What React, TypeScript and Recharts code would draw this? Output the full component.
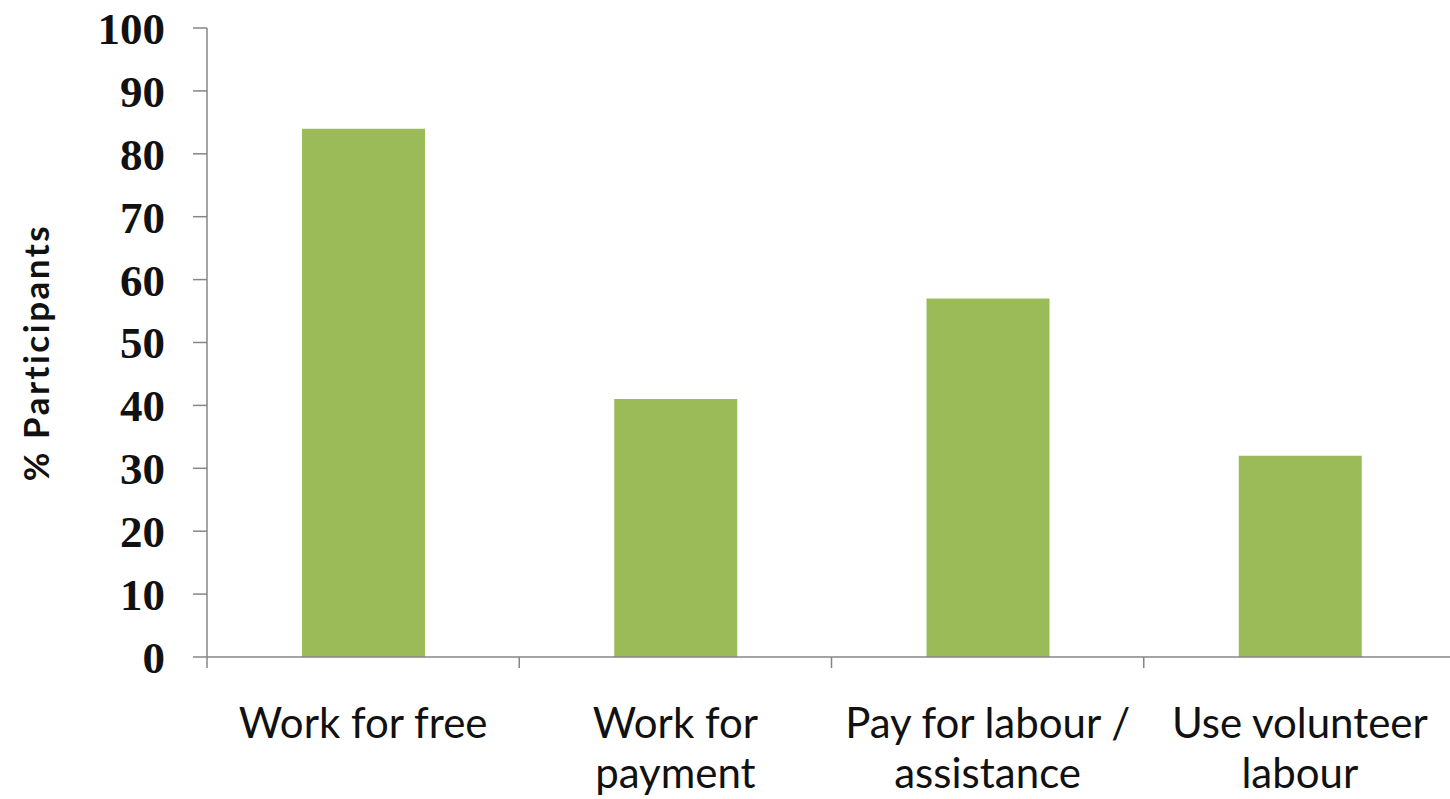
import { BarChart, Bar, XAxis, YAxis, Label } from "recharts";

const categories = ["Work for free", "Work for payment", "Pay for labour / assistance", "Use volunteer labour"];
const categoryLines = [["Work for free"], ["Work for", "payment"], ["Pay for labour /", "assistance"], ["Use volunteer", "labour"]];
const participants = [84, 41, 57, 32];
const yTicks = [0, 10, 20, 30, 40, 50, 60, 70, 80, 90, 100];

const data = categories.map((name, i) => ({ name, value: participants[i] }));

const W = 1456;
const H = 799;
const AXIS_X = 207;
const BAND = (W - AXIS_X) / categories.length;
const AXIS_COLOR = "#868686";

function CategoryTick(props: any) {
  const { x, y, index } = props;
  const lines = categoryLines[index] || [];
  const left = x - BAND / 2;
  return (
    <g>
      <line x1={left} y1={y - 8} x2={left} y2={y + 3} stroke={AXIS_COLOR} strokeWidth={1.5} />
      {index === categories.length - 1 && (
        <line x1={x + BAND / 2} y1={y - 8} x2={x + BAND / 2} y2={y + 3} stroke={AXIS_COLOR} strokeWidth={1.5} />
      )}
      {lines.map((t, i) => (
        <text
          key={i}
          x={x}
          y={y + 73 + i * 50}
          textAnchor="middle"
          fill="#111"
          fontFamily="Lato, sans-serif"
          fontSize={42}
        >
          {t}
        </text>
      ))}
    </g>
  );
}

export default function App() {
  return (
    <div style={{ position: "absolute", left: 0, top: 0, width: 1450, height: H, overflow: "hidden", background: "#fff" }}>
      <BarChart width={W} height={H} data={data} margin={{ top: 28, right: 0, bottom: 12, left: 0 }} barCategoryGap={0}>
        <XAxis
          dataKey="name"
          interval={0}
          height={130}
          tickLine={false}
          axisLine={{ stroke: AXIS_COLOR, strokeWidth: 1.5 }}
          tick={<CategoryTick />}
        />
        <YAxis
          width={AXIS_X}
          domain={[0, 100]}
          ticks={yTicks}
          interval={0}
          tickSize={14}
          tickMargin={28}
          axisLine={{ stroke: AXIS_COLOR, strokeWidth: 1.5 }}
          tickLine={{ stroke: AXIS_COLOR, strokeWidth: 1.5 }}
          tick={{ fill: "#111", fontFamily: "'Liberation Serif', serif", fontWeight: 700, fontSize: 45 }}
        >
          <Label
            value="% Participants"
            angle={-90}
            position="center"
            dx={-(AXIS_X / 2 - 37)}
            dy={10}
            style={{ fill: "#111", fontFamily: "Lato, sans-serif", fontWeight: 700, fontSize: 35, letterSpacing: 2.5, textAnchor: "middle" }}
          />
        </YAxis>
        <Bar dataKey="value" fill="#9BBB59" barSize={123} isAnimationActive={false} />
      </BarChart>
    </div>
  );
}
